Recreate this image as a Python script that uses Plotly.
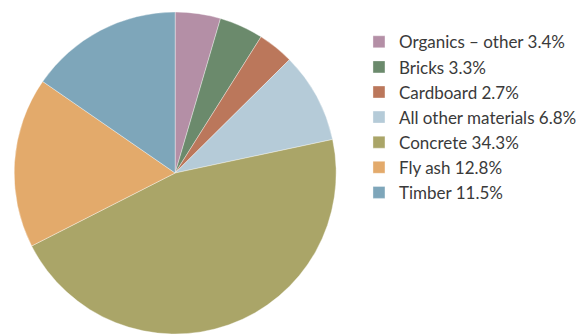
import plotly.graph_objects as go

labels = ["Organics – other 3.4%", "Bricks 3.3%", "Cardboard 2.7%",
          "All other materials 6.8%", "Concrete 34.3%", "Fly ash 12.8%", "Timber 11.5%"]
values = [3.4, 3.3, 2.7, 6.8, 34.3, 12.8, 11.5]
colors = ["#b48fa6", "#6b8a6c", "#bb775b", "#b5cbd8", "#aaa568", "#e3aa6b", "#7ea6ba"]

fig = go.Figure(go.Pie(
    labels=labels, values=values, sort=False, direction="clockwise", rotation=0,
    marker=dict(colors=colors, line=dict(color="rgba(255,255,255,0.6)", width=0.6)),
    textinfo="none", hoverinfo="label",
    domain=dict(x=[0.0, 0.605], y=[0, 1]),
))
fig.update_layout(
    width=582, height=334,
    margin=dict(l=0, r=0, t=12, b=0),
    paper_bgcolor="white", plot_bgcolor="white",
    showlegend=True,
    legend=dict(x=0.62, xanchor="left", y=0.962, yanchor="top",
                font=dict(family="Lato", size=17, color="#3a3a3a"),
                traceorder="normal", bgcolor="rgba(0,0,0,0)"),
)
fig.write_html("out.html")
